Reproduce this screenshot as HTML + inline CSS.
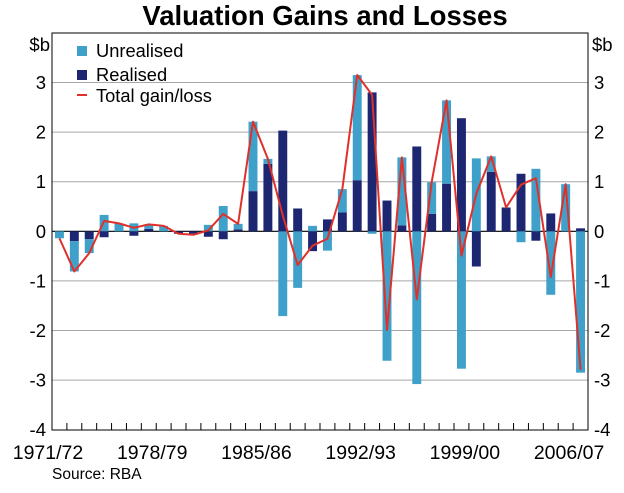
<!DOCTYPE html>
<html><head><meta charset="utf-8"><style>
body{margin:0;background:#fff;}
svg text{font-family:"Liberation Sans",Arial,sans-serif;}
</style></head><body>
<svg id="chart" width="624" height="488" xmlns="http://www.w3.org/2000/svg">
<text x="325" y="25" text-anchor="middle" font-size="27.5" font-weight="bold">Valuation Gains and Losses</text>
<g id="grid"></g>
<g id="bars"></g>
<g id="line"></g>
<rect x="52" y="33" width="536" height="397" fill="none" stroke="#000" stroke-width="1"/>
<g id="axes"></g>
<text x="50" y="51" text-anchor="end" font-size="18.5">$b</text>
<text x="592" y="51" font-size="18.5">$b</text>
<g>
<rect x="77" y="46" width="10" height="10" fill="#3fa0c9"/>
<text x="96" y="57" font-size="18.3">Unrealised</text>
<rect x="77" y="70" width="10" height="10" fill="#1d2670"/>
<text x="96" y="81" font-size="18.3">Realised</text>
<line x1="77" y1="95" x2="87" y2="95" stroke="#e0302a" stroke-width="2"/>
<text x="96" y="102" font-size="18.3">Total gain/loss</text>
</g>
<text x="52" y="479" font-size="15.5">Source: RBA</text>
</svg>
<script>
const unrealised=[-0.14,-0.61,-0.28,0.33,0.16,0.16,0.09,0.11,0,-0.02,0.13,0.51,0.11,1.40,0.10,-1.71,-1.14,0.11,-0.39,0.47,2.12,-0.05,-2.61,1.37,-3.08,0.64,1.68,-2.77,1.47,0.31,0,-0.22,1.26,-1.28,0.95,-2.85];
const realised=[0,-0.2,-0.16,-0.12,0,-0.09,0.05,0,-0.05,-0.05,-0.11,-0.16,0.04,0.81,1.36,2.03,0.46,-0.4,0.24,0.38,1.03,2.8,0.62,0.12,1.71,0.35,0.96,2.28,-0.71,1.2,0.48,1.16,-0.19,0.36,0,0.06];
const yTicks=[-4,-3,-2,-1,0,1,2,3];
const xLabels=["1971/72","1978/79","1985/86","1992/93","1999/00","2006/07"];
const xLabelPos=[-0.27,6.73,13.73,20.73,27.73,34.73];
const NS="http://www.w3.org/2000/svg";
const L=52,R=588,n=unrealised.length,bw=(R-L)/n;
const y=v=>231.3-v*49.6;
const x=i=>L+bw*(i+0.5);
function mk(tag,attrs,parent){const e=document.createElementNS(NS,tag);for(const k in attrs)e.setAttribute(k,attrs[k]);document.getElementById(parent).appendChild(e);return e;}
yTicks.forEach(t=>{
 if(t!==0&&t!==-4){const g=mk('line',{x1:L,x2:R,y1:y(t),y2:y(t),stroke:'#a8a8a8','stroke-width':1},'grid');
 
 }
 const a=mk('text',{x:46,y:y(t)+6.5,'text-anchor':'end','font-size':18.5},'axes');a.textContent=t;
 
 
 const b=mk('text',{x:594,y:y(t)+6.5,'font-size':18.5},'axes');b.textContent=t;
 
 
});
for(let i=1;i<n;i++){const t=mk('line',{x1:L+bw*i,x2:L+bw*i,y1:423,y2:430,stroke:'#000'},'axes');
 
 }
xLabels.forEach((s,k)=>{const t=mk('text',{x:L+bw*xLabelPos[k],y:459,'text-anchor':'middle','font-size':19.5},'axes');t.textContent=s;
 
 });
const w=bw*0.6;
for(let i=0;i<n;i++){
 let pos=0,neg=0;
 [[realised[i],'#1d2670','bar-realised'],[unrealised[i],'#3fa0c9','bar-unrealised']].forEach(([v,c,nm])=>{
  if(v===0)return;let y0,y1;
  if(v>0){y0=pos;pos+=v;y1=pos;}else{y0=neg;neg+=v;y1=neg;}
  const r=mk('rect',{x:x(i)-w/2,y:Math.min(y(y0),y(y1)),width:w,height:Math.abs(y(y1)-y(y0)),fill:c},'bars');
  
  
 });
}
mk('line',{x1:L,x2:R,y1:y(0),y2:y(0),stroke:'#000','stroke-width':1.2},'grid');
const pts=unrealised.map((u,i)=>x(i)+','+y(u+realised[i])).join(' ');
const pl=mk('polyline',{points:pts,fill:'none',stroke:'#e0302a','stroke-width':2,'stroke-linejoin':'round'},'line');


</script>
</body></html>
